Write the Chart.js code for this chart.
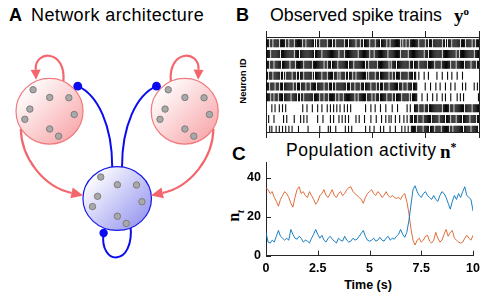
<!DOCTYPE html>
<html>
<head>
<meta charset="utf-8">
<script src="https://cdn.jsdelivr.net/npm/chart.js@4.4.0/dist/chart.umd.min.js"></script>
<style>
  body { margin: 0; width: 485px; height: 297px; position: relative; overflow: hidden; background: #fff;
         font-family: "Liberation Sans", Arial, sans-serif; color: #000; }
  canvas { position: absolute; }
  .t { position: absolute; white-space: nowrap; line-height: 1; }
  .b { font-weight: bold; }
  .m { font-family: "Liberation Serif", "DejaVu Serif", serif; font-weight: bold; }
</style>
</head>
<body>
<div class="t b" style="left:9px;top:6px;font-size:18px">A</div>
<div class="t" style="left:31px;top:6px;font-size:18px;letter-spacing:0.4px">Network architecture</div>
<div class="t b" style="left:236px;top:6px;font-size:18px">B</div>
<div class="t" style="left:270px;top:7px;font-size:17.8px">Observed spike trains</div>
<div class="t m" style="left:454px;top:6px;font-size:19px">y<sup style="font-size:11px">o</sup></div>
<div class="t b" style="left:243px;top:81px;font-size:9.5px;transform:translate(-50%,-50%) rotate(-90deg)">Neuron ID</div>
<div class="t b" style="left:232px;top:144px;font-size:19px">C</div>
<div class="t" style="left:286px;top:142px;font-size:17.5px;letter-spacing:0.5px">Population activity</div>
<div class="t m" style="left:440px;top:141px;font-size:19px">n<sup style="font-size:12px">*</sup></div>
<div class="t m" style="left:236px;top:216px;font-size:16px;transform:translate(-50%,-50%) rotate(-90deg)">n<sub style="font-size:10px;font-style:italic">t</sub></div>
<div class="t b" style="left:368px;top:279px;font-size:12.5px;transform:translateX(-50%)">Time (s)</div>

<canvas id="chartA" width="235" height="297" style="left:0;top:0"></canvas>
<canvas id="chartB" width="235" height="115" style="left:250px;top:28px"></canvas>
<canvas id="chartC" width="257" height="147" style="left:228px;top:150px"></canvas>

<script>
Chart.defaults.font.family = '"Liberation Sans", Arial, sans-serif';

// ---- B: spike raster, one string per neuron, 0.05 s bins over 10 s ('|' = spike)
const rasterRows = [
  "|||.||.||| ||.|||||.| |.||||.||| ||||.||.|| |||||.|.|| .||||||.|| ||.||.|||| |||.|||.|| ||||.|||.| |.|||||.|| ||.||||.|| |||.||.||| ||||||.|.| |.||.||||| |||.|||||. ||.|||.||| |||||.||.| .|||.||||| ||.||||.|| |||.||.|||",
  "||||.||||| |||.|||||| ||||||.||| |.|||||||| |||||.|||| ||.||||||| ||||||||.| |||.|||||| ||||||.||| |||||||.|| |.|||||||| ||||.||||| ||||||.||| |||.|||||| ||||||||.| ||.||||||| |||||.|||| ||||||||.| |.|||||||| |||||.||||",
  "|||.|||.|| ||||.||||| ||.||||.|| |||||.|||| |||.|||||| ||||.||.|| |.|||||.|| |||||||.|| ||.||||||| |||.||.||| ||||.||||| |||||.|.|| ||.||||||| ||||.|||.| |||.|||||| |.||||||.| ||||.||||| |||.||||.| ||||||.||| ||.||||.||",
  "||.|||.||| |||.||.|.| ||||.|||.| |.|||.|||| |||.|.|||| ||.||||.|| |||.|||.|. ||||.||.|| |.||.||||| ||||.|.||| ||.|||.||| |||||.||.| |.||||.||| |||.||||.| |..|....|. ..|....... |....|.... |...|....| ....|..... ..........",
  "|||.||||.| ||.|||.||| |||||.||.| ||.||||.|| |.|||||.|| ||||.|||.| ||.||.|||| |||||.|||. |||.||||.| ||.|||||.| |||.||.||| .||||.|||| ||||.|||.| ||.||||.|| ||.......| ....|....| ...|....|. ...|...|.. ....|..|.. .....|..|.",
  "||||.||.|| |.||||.||| |||.|||||. ||.||.|||| ||||.||||| .|||.|||.| |||||.||.| ||.||||||| |||.||.||| ||||.||||. ||.|||.||| |||.||||.| |.|||||.|| ||||.|.||| ||....|... .|....|... |....|..|. ...|.....| ..|..|.... .........|",
  ".....|..|. ..|..|..|. .......... ....|...|. ...|....|. ..|....|.. |..|..|..| ...|..|..| .......... ...|....|. ..|....|.. ..|.....|. ...|...... ..|..|...| |||.||||.| ||.||||||| |||||.|||| ||.|||.||| ||||||.||| |||.||||||",
  "..|....|.. ......|..| ......|... ..|..|..|. ........|. ...|...... |..|....|. .|..|..|.. ....|..|.. ..|.....|. ...|....|. ..|..|.|.. .|...|...| ..|..|||.| ||.||||.|| |||||.|||| ||.|||||.| |||.||||.| ||||.||||| |.|||||.||",
  "...|.|...| ..|..|..|. .|..|..... |........| .......... |.......|. |....|.... ....|..|.. |......... ...|...|.. .|.....|.. |.....|... .|.....|.. |..|..|||| |.|||||.|| |||.||||.| ||||.||||| ||.||.|||| |||||.|||| ||.||||||."
];
const timeTicks = [0, 2.5, 5, 7.5, 10];

// ---- C: population activity (spikes per bin), read at 0.1 s steps
const timeS = Array.from({ length: 101 }, (_, i) => i / 10);
const popOrange = [35,34,32,33,30,28,25.5,29,31,33, 32,30,27,25,30,34,35.5,32,33,31,
  30,33,31,29,26.5,28,31,32,34,31, 30,32,34,31,30,32,33,31,32,34,
  35,35.5,33,32,31,30,29,27,30,32, 33,34,32,31,33,32,30,31,33,31,
  30,31,30,29.5,30,29,31,32,28,22, 14,8,5.5,8,9,7,8,10,10.5,7.5,
  6.5,8,12,9,7,8,11,13.5,10,12, 13,9,8,7,6.5,7,9,10.5,9,8, 10.5];
const popBlue = [12,7,6.5,8,7,10,13,10,9,8, 9,8,13.5,11,9,8.5,10,9,7,8,
  7.5,6.5,9,11,13.5,11,9,10.5,8,7, 9,10,8.5,7.5,6.5,9,8,7.5,10,8,
  7,7.5,9,8,8.5,10,11.5,13,10,8, 7.5,8,9,7.5,8,9.5,8,7.5,9,10,
  8,9,8.5,10,11,13.5,11,9.5,12,18, 26,34,36,33,31,30,32,33,31,30,
  29,31,29,28,31,33,32,30,27,24, 28,31,29,32,30,33,35.5,31,30,29, 23];
const activityTicks = [0, 20, 40];

// ---- A: network diagram geometry (pixel units of the left panel)
const pops = [
  { cx: 46.5,  cy: 110,   rx: 35,   ry: 34, c0: '#ffffff', c1: '#f8aaad', stroke: '#f07a7e' },
  { cx: 187.7, cy: 110,   rx: 35,   ry: 34, c0: '#ffffff', c1: '#f8aaad', stroke: '#f07a7e' },
  { cx: 117.2, cy: 200.3, rx: 35.8, ry: 33, c0: '#ffffff', c1: '#9a9af0', stroke: '#1818e6' }
];
const cellDx = [-17.2, 0.2, 20.2, -20.5, -25.8, 25.8, 0.2, 9.5];
const cellDy = [-22.3, -14.3, -14, -2.3, 8.3, 3.3, 18.3, 25.7];
const mirror = pts => pts.map(([px, py]) => [234.2 - px, py]);
const loopL = [[61, 79], [64, 46], [31, 46], [32, 67]];
const excL  = [[16.5, 128], [17, 158], [40, 188], [69.5, 194.5]];
const inhL  = [[112, 168], [112, 125], [97, 93], [76, 84]];
const inhSelf = [[131, 227], [136, 272], [98, 270], [103, 236]];
const pink = '#f4666d', blue = '#0b0bef';
const edges = [
  { pts: loopL, color: pink, w: 2.2, head: 'arrow', len: 10, hw: 5 },
  { pts: mirror(loopL), color: pink, w: 2.2, head: 'arrow', len: 10, hw: 5 },
  { pts: excL, color: pink, w: 2.2, head: 'arrow', len: 12, hw: 5.5 },
  { pts: mirror(excL), color: pink, w: 2.2, head: 'arrow', len: 12, hw: 5.5 },
  { pts: inhL, color: blue, w: 2, head: 'dot', r: 4.4 },
  { pts: mirror(inhL), color: blue, w: 2, head: 'dot', r: 4.4 },
  { pts: inhSelf, color: blue, w: 2, head: 'dot', r: 4.2 }
];

const cells = [];
pops.forEach(p => cellDx.forEach((dx, i) => cells.push({ x: p.cx + dx, y: p.cy + cellDy[i] })));

const netPlugin = {
  id: 'net',
  beforeDatasetsDraw(chart) {
    const { ctx, scales: { x, y } } = chart;
    const P = p => [x.getPixelForValue(p[0]), y.getPixelForValue(p[1])];
    ctx.save();
    edges.forEach(e => {
      const [a, b, c, d] = e.pts.map(P);
      ctx.strokeStyle = e.color;
      ctx.lineWidth = e.w;
      ctx.beginPath();
      ctx.moveTo(a[0], a[1]);
      ctx.bezierCurveTo(b[0], b[1], c[0], c[1], d[0], d[1]);
      ctx.stroke();
    });
    pops.forEach(p => {
      const cx = x.getPixelForValue(p.cx), cy = y.getPixelForValue(p.cy);
      const rx = x.getPixelForValue(p.cx + p.rx) - cx, ry = y.getPixelForValue(p.cy + p.ry) - cy;
      const g = ctx.createLinearGradient(cx - rx * 0.75, cy - ry * 0.75, cx + rx * 0.75, cy + ry * 0.75);
      g.addColorStop(0, p.c0);
      g.addColorStop(1, p.c1);
      ctx.beginPath();
      ctx.ellipse(cx, cy, rx, Math.abs(ry), 0, 0, Math.PI * 2);
      ctx.fillStyle = g;
      ctx.fill();
      ctx.lineWidth = 1.2;
      ctx.strokeStyle = p.stroke;
      ctx.stroke();
    });
    ctx.restore();
  },
  afterDatasetsDraw(chart) {
    const { ctx, scales: { x, y } } = chart;
    const P = p => [x.getPixelForValue(p[0]), y.getPixelForValue(p[1])];
    ctx.save();
    edges.forEach(e => {
      const c = P(e.pts[2]), d = P(e.pts[3]);
      ctx.fillStyle = e.color;
      ctx.beginPath();
      if (e.head === 'dot') {
        ctx.arc(d[0], d[1], e.r, 0, Math.PI * 2);
      } else {
        let ux = d[0] - c[0], uy = d[1] - c[1];
        const n = Math.hypot(ux, uy); ux /= n; uy /= n;
        ctx.moveTo(d[0] + ux * e.len, d[1] + uy * e.len);
        ctx.lineTo(d[0] - uy * e.hw, d[1] + ux * e.hw);
        ctx.lineTo(d[0] + uy * e.hw, d[1] - ux * e.hw);
        ctx.closePath();
      }
      ctx.fill();
    });
    ctx.restore();
  }
};

new Chart(document.getElementById('chartA'), {
  type: 'scatter',
  data: { datasets: [{ data: cells, pointRadius: 3.2, pointBackgroundColor: '#a9a9a9',
                       pointBorderColor: '#7d7d7d', pointBorderWidth: 1 }] },
  options: {
    responsive: false, animation: false, events: [],
    layout: { padding: 0 },
    plugins: { legend: { display: false }, tooltip: { enabled: false } },
    scales: {
      x: { type: 'linear', min: 0, max: 235, display: false },
      y: { type: 'linear', min: 0, max: 297, reverse: true, display: false }
    }
  },
  plugins: [netPlugin]
});

// raster
const spikes = [];
rasterRows.forEach((row, r) => {
  const s = row.replace(/ /g, '');
  for (let i = 0; i < s.length; i++) {
    if (s[i] === '|') spikes.push({ x: (i + 0.5) * 10 / s.length, y: r + 1 });
  }
});
const edgeAxis = (pos) => ({
  type: 'linear', position: pos, min: 0, max: 10,
  ticks: { display: false },
  grid: { drawOnChartArea: false, drawTicks: true, tickLength: 6, color: '#222' },
  border: { display: true, color: '#222', width: 1 },
  afterBuildTicks: s => { s.ticks = timeTicks.map(v => ({ value: v })); },
  afterFit: s => { s.height = 6; }
});
const sideAxis = (pos) => ({
  type: 'linear', position: pos, min: 0.43, max: 9.2, reverse: true,
  ticks: { display: false }, grid: { display: false },
  border: { display: true, color: '#222', width: 1 },
  afterFit: s => { s.width = 0; }
});
new Chart(document.getElementById('chartB'), {
  type: 'scatter',
  data: { datasets: [{ data: spikes, pointStyle: 'line', pointRotation: 90, pointRadius: 4,
                       pointBorderWidth: 1.1, pointBorderColor: '#0a0a0a' }] },
  options: {
    responsive: false, animation: false, events: [],
    layout: { padding: { left: 16, right: 6, top: 3, bottom: 5 } },
    plugins: { legend: { display: false }, tooltip: { enabled: false } },
    scales: { x: edgeAxis('bottom'), x2: edgeAxis('top'), y: sideAxis('left'), y2: sideAxis('right') }
  }
});

// population activity
const inwardTicks = {
  id: 'inwardTicks',
  afterDraw(chart) {
    const { ctx, chartArea: a, scales: { x, y } } = chart;
    ctx.save();
    ctx.strokeStyle = '#262626';
    ctx.lineWidth = 1;
    ctx.beginPath();
    x.ticks.forEach(t => {
      const px = Math.round(x.getPixelForValue(t.value)) + 0.5;
      ctx.moveTo(px, a.bottom); ctx.lineTo(px, a.bottom - 5);
    });
    y.ticks.forEach(t => {
      const py = Math.round(y.getPixelForValue(t.value)) + 0.5;
      ctx.moveTo(a.left, py); ctx.lineTo(a.left + 5, py);
    });
    ctx.stroke();
    ctx.restore();
  }
};
const tickFont = { size: 12.5, weight: 'bold' };
new Chart(document.getElementById('chartC'), {
  type: 'line',
  data: {
    datasets: [
      { data: timeS.map((t, i) => ({ x: t, y: popBlue[i] })), borderColor: 'rgba(0,114,189,0.9)',
        borderWidth: 1, pointRadius: 0 },
      { data: timeS.map((t, i) => ({ x: t, y: popOrange[i] })), borderColor: 'rgba(217,83,25,0.85)',
        borderWidth: 1, pointRadius: 0 }
    ]
  },
  options: {
    responsive: false, animation: false, events: [],
    layout: { padding: { left: 0, right: 6, top: 10.7, bottom: 19.3 } },
    plugins: { legend: { display: false }, tooltip: { enabled: false } },
    scales: {
      x: {
        type: 'linear', min: 0, max: 10,
        ticks: { font: tickFont, color: '#000', padding: 5, maxRotation: 0, callback: v => String(v) },
        grid: { display: false, drawTicks: false },
        border: { display: true, color: '#262626' },
        afterBuildTicks: s => { s.ticks = timeTicks.map(v => ({ value: v })); },
        afterFit: s => { s.height = 22; }
      },
      y: {
        type: 'linear', min: 0, max: 48,
        ticks: { font: tickFont, color: '#000', padding: 5, callback: v => String(v) },
        grid: { display: false, drawTicks: false },
        border: { display: true, color: '#262626' },
        afterBuildTicks: s => { s.ticks = activityTicks.map(v => ({ value: v })); },
        afterFit: s => { s.width = 38; }
      }
    }
  },
  plugins: [inwardTicks]
});
</script>
</body>
</html>
